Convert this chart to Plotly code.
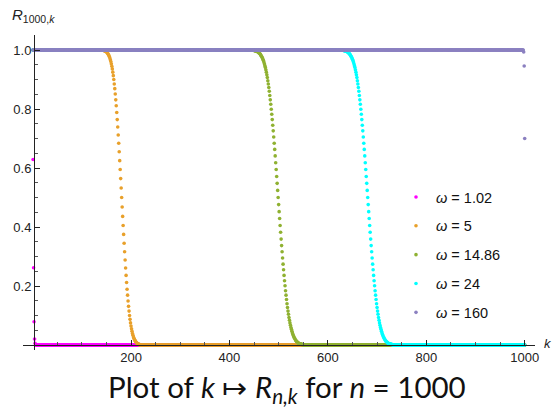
import plotly.graph_objects as go

# ---------------- data ----------------
k_values = list(range(1, 1001))
omega_labels = ["1.02", "5", "14.86", "24", "160"]
series_colors = ["#FF00FF", "#E8A02A", "#8FB131", "#00FFFF", "#8B80C0"]

# omega = 1.02 : first points, zero afterwards
magenta_head = [0.629, 0.262, 0.079, 0.020, 0.006]

# omega = 5 : 1 before k = 146, drop over k = 146..216, 0 afterwards
orange_drop_start = 146
orange_drop = [
    0.997, 0.997, 0.996, 0.995, 0.993, 0.992, 0.990, 0.987, 0.985, 0.981,
    0.977, 0.973, 0.967, 0.961, 0.953, 0.945, 0.936, 0.925, 0.913, 0.900,
    0.885, 0.869, 0.851, 0.831, 0.811, 0.788, 0.764, 0.739, 0.712, 0.684,
    0.655, 0.625, 0.595, 0.564, 0.532, 0.500,
    0.468, 0.436, 0.405, 0.375, 0.345, 0.316, 0.288, 0.261, 0.236, 0.212,
    0.189, 0.169, 0.149, 0.131, 0.115, 0.100, 0.087, 0.075, 0.064, 0.055,
    0.047, 0.039, 0.033, 0.027, 0.023, 0.019, 0.015, 0.013, 0.010, 0.008,
    0.007, 0.005, 0.004, 0.003, 0.003,
]

# omega = 14.86 : drop over k = 449..549
green_drop_start = 449
green_drop = [
    0.999, 0.998, 0.998, 0.998, 0.997, 0.996, 0.996, 0.995, 0.994, 0.993,
    0.992, 0.990, 0.989, 0.987, 0.985, 0.982, 0.979, 0.976, 0.973, 0.969,
    0.964, 0.959, 0.953, 0.947, 0.941, 0.933, 0.925, 0.916, 0.907, 0.896,
    0.885, 0.873, 0.860, 0.846, 0.831, 0.816, 0.799, 0.782, 0.764, 0.745,
    0.726, 0.705, 0.684, 0.663, 0.641, 0.618, 0.595, 0.571, 0.548, 0.524,
    0.500,
    0.476, 0.452, 0.429, 0.405, 0.382, 0.359, 0.337, 0.316, 0.295, 0.274,
    0.255, 0.236, 0.218, 0.201, 0.184, 0.169, 0.154, 0.140, 0.127, 0.115,
    0.104, 0.093, 0.084, 0.075, 0.067, 0.059, 0.053, 0.047, 0.041, 0.036,
    0.031, 0.027, 0.024, 0.021, 0.018, 0.015, 0.013, 0.011, 0.010, 0.008,
    0.007, 0.006, 0.005, 0.004, 0.004, 0.003, 0.002, 0.002, 0.002, 0.001,
]

# omega = 24 : drop over k = 631..731
cyan_drop_start = 631
cyan_drop = [
    0.999, 0.998, 0.998, 0.998, 0.997, 0.996, 0.996, 0.995, 0.994, 0.993,
    0.992, 0.990, 0.989, 0.987, 0.985, 0.982, 0.979, 0.976, 0.973, 0.969,
    0.964, 0.959, 0.953, 0.947, 0.941, 0.933, 0.925, 0.916, 0.907, 0.896,
    0.885, 0.873, 0.860, 0.846, 0.831, 0.816, 0.799, 0.782, 0.764, 0.745,
    0.726, 0.705, 0.684, 0.663, 0.641, 0.618, 0.595, 0.571, 0.548, 0.524,
    0.500,
    0.476, 0.452, 0.429, 0.405, 0.382, 0.359, 0.337, 0.316, 0.295, 0.274,
    0.255, 0.236, 0.218, 0.201, 0.184, 0.169, 0.154, 0.140, 0.127, 0.115,
    0.104, 0.093, 0.084, 0.075, 0.067, 0.059, 0.053, 0.047, 0.041, 0.036,
    0.031, 0.027, 0.024, 0.021, 0.018, 0.015, 0.013, 0.011, 0.010, 0.008,
    0.007, 0.006, 0.005, 0.004, 0.004, 0.003, 0.002, 0.002, 0.002, 0.001,
]

# omega = 160 : 1 everywhere except the last three points
purple_tail = [0.993, 0.946, 0.700]

x_tick_values = [200, 400, 600, 800, 1000]
x_tick_labels = ["200", "400", "600", "800", "1000"]
x_minor_values = [50, 100, 150, 250, 300, 350, 450, 500, 550, 650, 700, 750, 850, 900, 950]
y_tick_values = [0.2, 0.4, 0.6, 0.8, 1.0]
y_tick_labels = ["0.2", "0.4", "0.6", "0.8", "1.0"]
y_minor_values = [0.05, 0.1, 0.15, 0.25, 0.3, 0.35, 0.45, 0.5, 0.55, 0.65, 0.7, 0.75,
                  0.85, 0.9, 0.95, 1.05]


def assemble(start, drop):
    n = len(k_values)
    return [1.0] * (start - 1) + drop + [0.0] * (n - (start - 1) - len(drop))


magenta = magenta_head + [0.0] * (len(k_values) - len(magenta_head))
orange = assemble(orange_drop_start, orange_drop)
green = assemble(green_drop_start, green_drop)
cyan = assemble(cyan_drop_start, cyan_drop)
purple = [1.0] * (len(k_values) - len(purple_tail)) + purple_tail

all_series = [magenta, orange, green, cyan, purple]

# ---------------- figure ----------------
fig = go.Figure()
for i, (vals, lab, col) in enumerate(zip(all_series, omega_labels, series_colors)):
    fig.add_trace(go.Scatter(
        x=k_values, y=vals, mode="markers",
        marker=dict(size=3.6, color=col, line=dict(width=0)),
        name="<i>ω</i> = " + lab, legendgroup="g%d" % i,
        cliponaxis=False,
    ))

L, R, T, B = 23, 17, 35, 57
W, H = 552, 407
plot_w = W - L - R
plot_h = H - T - B
px_per_k = 0.4921
x0 = -19.5
x1 = x0 + plot_w / px_per_k
y_bottom = -5 / 295
y_top = (345 - 35) / 295

tick_font = dict(family="Liberation Sans, Arial, sans-serif", size=13, color="#222222")

fig.update_layout(
    width=W, height=H,
    margin=dict(l=L, r=R, t=T, b=B, pad=0),
    paper_bgcolor="white", plot_bgcolor="white",
    showlegend=True,
    legend=dict(
        x=(396 - L) / plot_w, y=(H - B - 181) / plot_h,
        xanchor="left", yanchor="top",
        bgcolor="rgba(0,0,0,0)",
        font=dict(family="Liberation Sans, Arial, sans-serif", size=14.5, color="#111111"),
        tracegroupgap=7,
        itemsizing="trace",
    ),
    xaxis=dict(
        range=[x0, x1], anchor="free", position=5 / plot_h,
        showgrid=False, zeroline=False,
        showline=True, linecolor="#222222", linewidth=1,
        tickmode="array", tickvals=x_tick_values, ticktext=x_tick_labels,
        ticks="inside", ticklen=5, tickwidth=1, tickcolor="#222222",
        minor=dict(tickmode="array", tickvals=x_minor_values, ticks="inside",
                   ticklen=3, tickwidth=1, tickcolor="#555555"),
        tickfont=tick_font,
    ),
    yaxis=dict(
        range=[y_bottom, y_top], anchor="free", position=(34 - L) / plot_w,
        showgrid=False, zeroline=False,
        showline=True, linecolor="#222222", linewidth=1,
        tickmode="array", tickvals=y_tick_values, ticktext=y_tick_labels,
        ticks="inside", ticklen=5, tickwidth=1, tickcolor="#222222",
        minor=dict(tickmode="array", tickvals=y_minor_values, ticks="inside",
                   ticklen=3, tickwidth=1, tickcolor="#555555"),
        tickfont=tick_font,
    ),
    annotations=[
        dict(text="<i>R</i><sub>1000,<i>k</i></sub>", xref="paper", yref="paper",
             x=(10 - L) / plot_w, y=(H - B - 16) / plot_h, xanchor="left", yanchor="middle",
             showarrow=False,
             font=dict(family="Liberation Sans, Arial, sans-serif", size=15, color="#222222")),
        dict(text="<i>k</i>", xref="paper", yref="paper",
             x=(548 - L) / plot_w, y=(H - B - 343) / plot_h, xanchor="center", yanchor="middle",
             showarrow=False,
             font=dict(family="Liberation Sans, Arial, sans-serif", size=13, color="#222222")),
        dict(text="Plot of <i>k</i> ↦ <i>R</i><sub><i>n,k</i></sub> for <i>n</i> = 1000",
             xref="paper", yref="paper",
             x=(287 - L) / plot_w, y=(H - B - 388) / plot_h, xanchor="center", yanchor="middle",
             showarrow=False,
             font=dict(family="Lato, Noto Sans, sans-serif", size=29.5, color="#111111")),
    ],
)

fig.write_html("out.html")
